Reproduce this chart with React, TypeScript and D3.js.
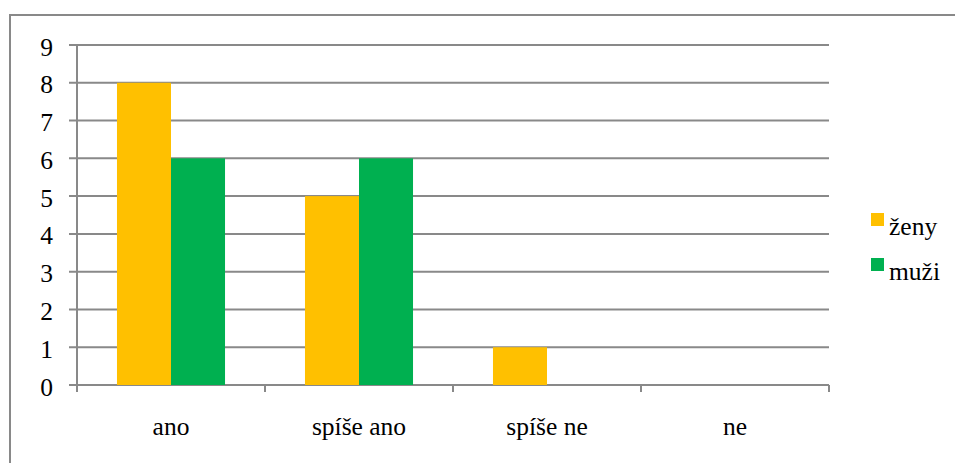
import React from "react";
import * as d3 from "d3";

const categories = ["ano", "spíše ano", "spíše ne", "ne"];
const seriesNames = ["ženy", "muži"];
const zenyValues = [8, 5, 1, 0];
const muziValues = [6, 6, 0, 0];
const yTicks = [0, 1, 2, 3, 4, 5, 6, 7, 8, 9];
const colors = ["#FFC000", "#00B050"];

const W = 955;
const H = 463;
const plotLeft = 77;
const plotRight = 829;
const plotTop = 45;
const plotBottom = 385;
const font =
  "'Liberation Serif', Tinos, 'Noto Serif', FreeSerif, 'Nimbus Roman', 'Nimbus Roman No9 L', 'DejaVu Serif', Times, serif";
const fontSize = 25.5;
const gridColor = "#898989";

export default function App() {
  const x = d3.scaleBand<string>().domain(categories).range([plotLeft, plotRight]).paddingInner(0).paddingOuter(0);
  const xs = d3.scaleBand<string>().domain(seriesNames).range([0, x.bandwidth()]).paddingInner(0).paddingOuter(0.74);
  const y = d3.scaleLinear().domain([0, 9]).range([plotBottom, plotTop]);
  const values = [zenyValues, muziValues];
  const boundaries = categories.map((c) => x(c) as number).concat([plotRight]);

  return (
    <svg
      width={W}
      height={H}
      fontFamily={font}
      style={{ position: "absolute", left: 0, top: 0, display: "block", background: "#fff", fontFamily: font }}
    >
      <rect x={10} y={15} width={W + 20} height={H + 20} fill="#fff" stroke={gridColor} strokeWidth={2} />
      {yTicks.map((t) => (
        <g key={t}>
          <line x1={plotLeft - 8} x2={plotRight} y1={y(t)} y2={y(t)} stroke={gridColor} strokeWidth={2} />
          <text x={53} y={y(t) + 10.5} textAnchor="end" fontSize={fontSize} fill="#000">
            {t}
          </text>
        </g>
      ))}
      <line x1={plotLeft} x2={plotLeft} y1={plotTop} y2={plotBottom + 7} stroke={gridColor} strokeWidth={2} />
      {boundaries.map((b, i) => (
        <line key={i} x1={b} x2={b} y1={plotBottom} y2={plotBottom + 7} stroke={gridColor} strokeWidth={2} />
      ))}
      {seriesNames.map((s, si) =>
        categories.map((c, ci) => {
          const v = values[si][ci];
          if (v <= 0) return null;
          return (
            <rect
              key={s + c}
              x={(x(c) as number) + (xs(s) as number)}
              y={y(v)}
              width={xs.bandwidth()}
              height={y(0) - y(v)}
              fill={colors[si]}
            />
          );
        })
      )}
      {categories.map((c) => (
        <text key={c} x={(x(c) as number) + x.bandwidth() / 2} y={435} textAnchor="middle" fontSize={fontSize} fill="#000">
          {c}
        </text>
      ))}
      {seriesNames.map((s, i) => (
        <g key={s}>
          <rect x={871} y={213 + i * 45} width={13} height={13} fill={colors[i]} />
          <text x={889} y={235 + i * 45} fontSize={fontSize} fill="#000">
            {s}
          </text>
        </g>
      ))}
    </svg>
  );
}
